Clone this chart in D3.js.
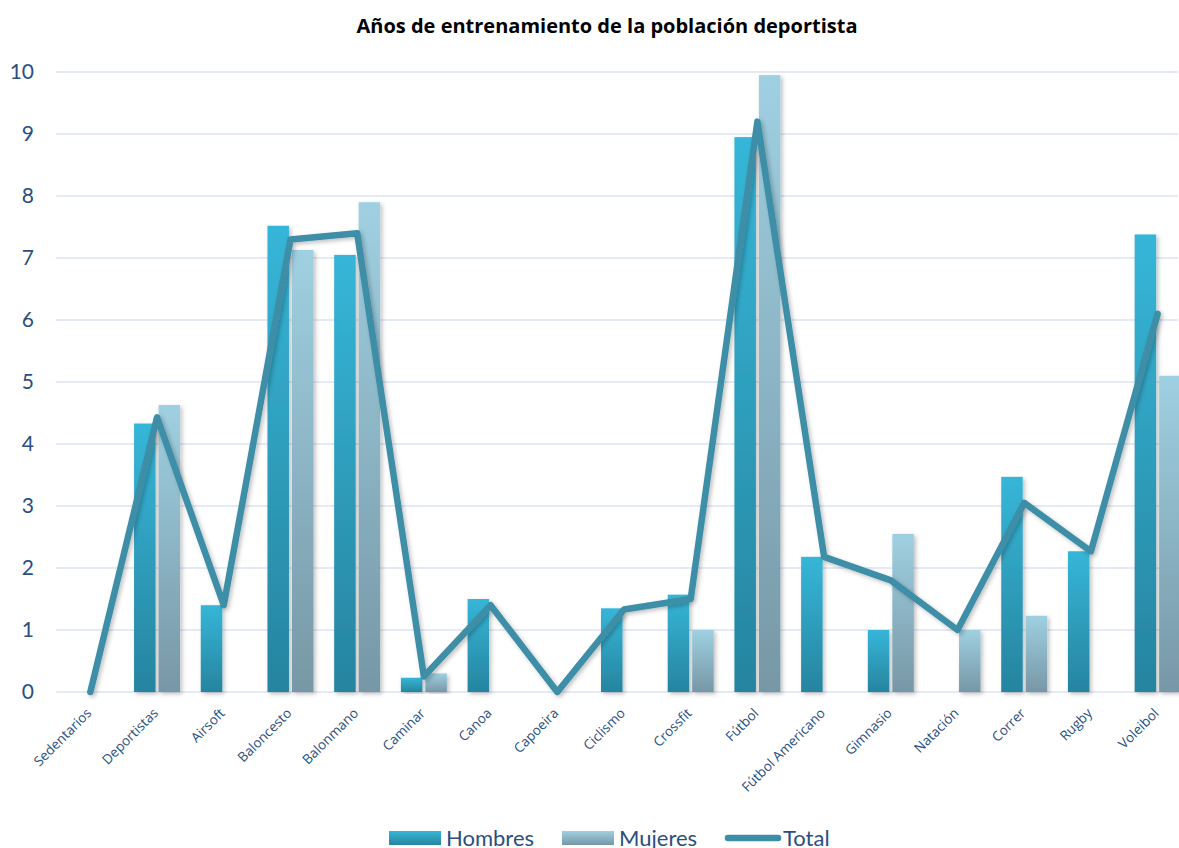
<!DOCTYPE html>
<html>
<head>
<meta charset="utf-8">
<script src="https://cdn.jsdelivr.net/npm/d3@7"></script>
<style>
  body { margin: 0; background: #fff; }
  svg { display: block; }
</style>
</head>
<body>
<div id="chart"></div>
<script>
var width = 1179;
var height = 848;

var categories = ["Sedentarios", "Deportistas", "Airsoft", "Baloncesto", "Balonmano", "Caminar", "Canoa",
  "Capoeira", "Ciclismo", "Crossfit", "Fútbol", "Fútbol Americano", "Gimnasio", "Natación", "Correr", "Rugby", "Voleibol"];
var hombres = [0, 4.33, 1.4, 7.52, 7.05, 0.23, 1.5, 0, 1.35, 1.57, 8.95, 2.18, 1.0, 0, 3.47, 2.27, 7.38];
var mujeres = [0, 4.63, 0, 7.13, 7.9, 0.3, 0, 0, 0, 1.0, 9.95, 0, 2.55, 1.0, 1.23, 0, 5.1];
var total = [0, 4.43, 1.4, 7.3, 7.4, 0.25, 1.4, 0, 1.33, 1.5, 9.2, 2.18, 1.8, 1.0, 3.05, 2.27, 6.1];
var yTicks = [0, 1, 2, 3, 4, 5, 6, 7, 8, 9, 10];
var seriesNames = ["Hombres", "Mujeres", "Total"];

var svg = d3.select("#chart")
  .append("svg")
  .attr("width", width)
  .attr("height", height);

var defs = svg.append("defs");
function grad(id, top, bottom) {
  var g = defs.append("linearGradient").attr("id", id)
    .attr("x1", 0).attr("y1", 0).attr("x2", 0).attr("y2", 1);
  g.append("stop").attr("offset", "0%").attr("stop-color", top);
  g.append("stop").attr("offset", "100%").attr("stop-color", bottom);
}
grad("gH", "#36b6d8", "#26849f");
grad("gM", "#9fd0e1", "#7797a6");
var f = defs.append("filter").attr("id", "shadow")
  .attr("x", "-30%").attr("y", "-5%").attr("width", "160%").attr("height", "115%");
f.append("feDropShadow").attr("dx", 2).attr("dy", 2).attr("stdDeviation", 2)
  .attr("flood-color", "#000").attr("flood-opacity", 0.25);

var x = d3.scaleBand().domain(categories).range([57, 1191]);
var y = d3.scaleLinear().domain([0, 10]).range([692, 72]);
var cx = function(d) { return x(d) + x.bandwidth() / 2; };

// gridlines
svg.append("g").selectAll("line")
  .data(yTicks)
  .enter().append("line")
  .attr("x1", 56).attr("x2", 1178)
  .attr("y1", function(d) { return y(d); })
  .attr("y2", function(d) { return y(d); })
  .attr("stroke", "#dbe5f4")
  .attr("stroke-width", 1.5);

// y axis
var yAxis = svg.append("g")
  .attr("transform", "translate(40,0)")
  .call(d3.axisLeft(y).tickValues(yTicks).tickSize(0).tickPadding(6));
yAxis.select(".domain").remove();
yAxis.selectAll("text")
  .attr("font-family", "Lato, 'Open Sans', sans-serif")
  .attr("font-size", "21px")
  .attr("fill", "#2a4f7f");

// x axis labels
var xAxis = svg.append("g")
  .attr("transform", "translate(0,692)")
  .call(d3.axisBottom(x).tickSize(0).tickPadding(0));
xAxis.select(".domain").remove();
xAxis.selectAll("text")
  .attr("font-family", "'Open Sans', sans-serif")
  .attr("font-size", "13.5px")
  .attr("fill", "#2a4f7f")
  .attr("text-anchor", "end")
  .attr("dy", 0)
  .attr("transform", "translate(2,22) rotate(-45)");

// bars
var bars = svg.append("g");
bars.selectAll("rect.h")
  .data(categories)
  .enter().append("rect")
  .attr("class", "h")
  .attr("x", function(d) { return cx(d) - 23; })
  .attr("y", function(d, i) { return y(hombres[i]); })
  .attr("width", 21.5)
  .attr("height", function(d, i) { return y(0) - y(hombres[i]); })
  .attr("fill", "url(#gH)")
  .attr("filter", function(d, i) { return hombres[i] > 0 ? "url(#shadow)" : null; });
bars.selectAll("rect.m")
  .data(categories)
  .enter().append("rect")
  .attr("class", "m")
  .attr("x", function(d) { return cx(d) + 1.5; })
  .attr("y", function(d, i) { return y(mujeres[i]); })
  .attr("width", 21.5)
  .attr("height", function(d, i) { return y(0) - y(mujeres[i]); })
  .attr("fill", "url(#gM)")
  .attr("filter", function(d, i) { return mujeres[i] > 0 ? "url(#shadow)" : null; });

// total line
var line = d3.line()
  .x(function(d, i) { return cx(categories[i]); })
  .y(function(d) { return y(d); });
svg.append("path")
  .datum(total)
  .attr("d", line)
  .attr("fill", "none")
  .attr("stroke", "#3c8ea6")
  .attr("stroke-width", 6.5)
  .attr("stroke-linejoin", "round")
  .attr("stroke-linecap", "round")
  .attr("filter", "url(#shadow)");

// title
svg.append("text")
  .attr("x", 607)
  .attr("y", 33)
  .attr("text-anchor", "middle")
  .attr("font-family", "'Open Sans', sans-serif")
  .attr("font-weight", "bold")
  .attr("font-size", "20px")
  .attr("fill", "#000")
  .text("Años de entrenamiento de la población deportista");

// legend
var legendX = [389, 562, 725];
var legend = svg.append("g")
  .selectAll("g")
  .data(seriesNames)
  .enter().append("g")
  .attr("transform", function(d, i) { return "translate(" + legendX[i] + ",0)"; });
legend.filter(function(d, i) { return i < 2; })
  .append("rect")
  .attr("x", 0).attr("y", 831)
  .attr("width", 52).attr("height", 14)
  .attr("fill", function(d, i) { return i === 0 ? "url(#gH)" : "url(#gM)"; });
legend.filter(function(d, i) { return i === 2; })
  .append("line")
  .attr("x1", 3).attr("x2", 53)
  .attr("y1", 838).attr("y2", 838)
  .attr("stroke", "#3c8ea6")
  .attr("stroke-width", 6.5)
  .attr("stroke-linecap", "round");
legend.append("text")
  .attr("x", function(d, i) { return i === 2 ? 58 : 57; })
  .attr("y", 846)
  .attr("font-family", "Lato, 'Open Sans', sans-serif")
  .attr("font-size", "22px")
  .attr("fill", "#2a4f7f")
  .text(function(d) { return d; });
</script>
</body>
</html>
